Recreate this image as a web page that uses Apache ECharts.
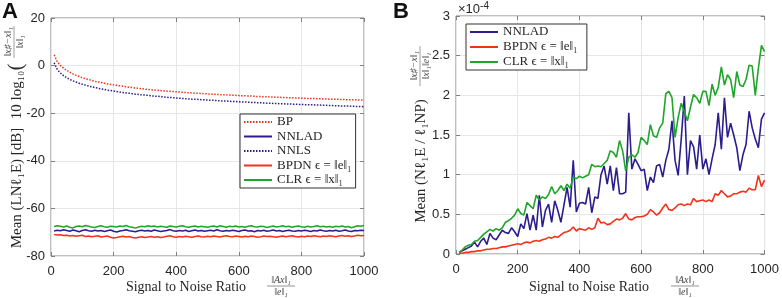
<!DOCTYPE html>
<html><head><meta charset="utf-8">
<script src="https://cdn.jsdelivr.net/npm/echarts@6/dist/echarts.min.js"></script>
<style>html,body{margin:0;padding:0;background:#fff}#c{width:782px;height:298px}</style>
</head><body><div id="c"></div>
<script>
// x values (Signal to Noise Ratio)
const snr = [10,20,30,40,50,60,70,80,90,100,110,120,130,140,150,160,170,180,190,200,
210,220,230,240,250,260,270,280,290,300,310,320,330,340,350,360,370,380,390,400,
410,420,430,440,450,460,470,480,490,500,510,520,530,540,550,560,570,580,590,600,
610,620,630,640,650,660,670,680,690,700,710,720,730,740,750,760,770,780,790,800,
810,820,830,840,850,860,870,880,890,900,910,920,930,940,950,960,970,980,990,1000];

// Panel A (dB)
const aBP = [4.5,1.6,0.1,-1.1,-2.0,-2.8,-3.5,-4.1,-4.6,-5.1,
-5.5,-5.9,-6.2,-6.6,-6.9,-7.1,-7.4,-7.7,-7.9,-8.1,
-8.3,-8.5,-8.7,-8.9,-9.1,-9.2,-9.4,-9.6,-9.7,-9.9,
-10.0,-10.1,-10.3,-10.4,-10.5,-10.6,-10.7,-10.8,-10.9,-11.0,
-11.1,-11.2,-11.3,-11.4,-11.5,-11.6,-11.6,-11.7,-11.8,-11.9,
-12.0,-12.0,-12.1,-12.2,-12.3,-12.3,-12.4,-12.5,-12.5,-12.6,
-12.7,-12.7,-12.8,-12.8,-12.9,-13.0,-13.0,-13.1,-13.1,-13.2,
-13.2,-13.3,-13.3,-13.4,-13.4,-13.5,-13.5,-13.6,-13.6,-13.7,
-13.7,-13.8,-13.8,-13.8,-13.9,-13.9,-14.0,-14.0,-14.1,-14.1,
-14.1,-14.2,-14.2,-14.3,-14.3,-14.3,-14.4,-14.4,-14.5,-14.5];
const aNNLS = [1.2,-1.6,-3.1,-4.2,-5.1,-5.8,-6.4,-6.9,-7.4,-7.8,
-8.2,-8.6,-8.9,-9.2,-9.5,-9.8,-10.0,-10.3,-10.5,-10.7,
-10.9,-11.1,-11.3,-11.5,-11.6,-11.8,-12.0,-12.1,-12.3,-12.4,
-12.5,-12.7,-12.8,-12.9,-13.0,-13.2,-13.3,-13.4,-13.5,-13.6,
-13.7,-13.8,-13.9,-14.0,-14.1,-14.1,-14.2,-14.3,-14.4,-14.5,
-14.6,-14.6,-14.7,-14.8,-14.9,-14.9,-15.0,-15.1,-15.1,-15.2,
-15.3,-15.3,-15.4,-15.5,-15.5,-15.6,-15.6,-15.7,-15.8,-15.8,
-15.9,-15.9,-16.0,-16.0,-16.1,-16.1,-16.2,-16.2,-16.3,-16.3,
-16.4,-16.4,-16.5,-16.5,-16.6,-16.6,-16.7,-16.7,-16.8,-16.8,
-16.9,-16.9,-17.0,-17.0,-17.0,-17.1,-17.1,-17.2,-17.2,-17.3];
const aNNLAD = [-69.5,-69.2,-69.4,-69.0,-69.3,-69.6,-69.1,-69.4,-69.8,-69.3,
-69.0,-69.4,-69.6,-69.2,-69.5,-69.3,-69.7,-69.4,-69.1,-69.6,
-69.9,-69.5,-69.3,-69.0,-69.4,-69.6,-69.8,-69.4,-69.2,-69.5,
-69.3,-69.6,-69.1,-69.4,-69.7,-69.5,-69.3,-68.9,-69.4,-69.6,
-69.3,-69.5,-69.2,-69.7,-69.4,-69.1,-69.5,-69.3,-69.6,-69.4,
-69.2,-69.5,-69.0,-69.4,-69.6,-69.3,-69.5,-69.2,-69.4,-69.7,
-69.3,-69.1,-69.5,-69.4,-69.8,-69.3,-69.5,-69.2,-69.6,-69.4,
-69.1,-69.5,-69.3,-69.7,-69.4,-69.2,-69.5,-69.6,-69.3,-69.5,
-69.2,-69.4,-69.7,-69.3,-69.5,-69.1,-69.4,-69.6,-69.3,-69.5,
-69.2,-69.6,-69.4,-69.1,-69.5,-69.7,-69.3,-69.4,-69.2,-69.3];
const aBPDN = [-71.0,-71.2,-71.1,-71.4,-71.3,-71.6,-71.4,-71.7,-71.5,-71.3,
-71.8,-71.6,-71.9,-71.7,-71.5,-72.0,-71.8,-71.6,-72.1,-72.4,
-72.2,-71.9,-71.7,-72.0,-71.8,-72.2,-72.4,-72.1,-71.9,-72.2,
-72.0,-71.8,-72.1,-71.9,-72.2,-72.0,-71.7,-71.5,-71.9,-72.1,
-71.8,-72.0,-71.7,-71.9,-72.1,-71.8,-71.6,-71.9,-72.0,-71.7,
-71.9,-71.6,-71.8,-72.0,-71.7,-71.5,-71.8,-71.9,-71.6,-71.8,
-72.0,-71.7,-71.9,-71.6,-71.8,-72.1,-71.9,-71.6,-71.8,-71.7,
-71.9,-72.1,-71.8,-71.6,-71.9,-71.7,-71.5,-71.8,-72.0,-71.7,
-71.9,-71.6,-71.8,-71.5,-71.7,-71.9,-71.6,-71.8,-71.5,-71.7,
-71.9,-71.6,-71.4,-71.7,-71.5,-71.8,-71.6,-71.3,-71.5,-71.4];
const aCLR = [-67.6,-67.3,-67.5,-67.8,-67.4,-67.9,-68.2,-67.6,-67.4,-67.7,
-67.2,-67.5,-67.8,-68.0,-67.6,-67.3,-67.7,-67.9,-67.5,-67.6,
-67.8,-67.4,-67.6,-67.2,-67.7,-67.9,-68.3,-67.8,-67.5,-67.7,
-67.3,-67.6,-67.4,-67.8,-67.5,-67.7,-67.9,-67.4,-67.6,-67.8,
-67.5,-67.3,-67.7,-67.9,-67.6,-67.4,-67.8,-67.5,-67.7,-67.9,
-67.6,-67.4,-67.8,-67.3,-67.6,-67.9,-67.5,-67.7,-67.4,-67.8,
-67.6,-67.9,-67.5,-67.3,-67.7,-67.8,-67.5,-67.6,-68.0,-67.7,
-67.4,-67.8,-67.6,-67.3,-67.7,-67.5,-67.9,-67.6,-67.4,-67.7,
-67.9,-67.5,-67.8,-67.6,-67.3,-67.7,-67.5,-67.8,-67.6,-67.9,
-67.5,-67.7,-67.4,-67.8,-67.6,-68.1,-67.7,-67.3,-67.5,-67.2];

// Panel B (units of 1e-4)
const bNNLAD = [0.02,0.04,0.06,0.08,0.10,0.15,0.09,0.16,0.20,0.12,
0.26,0.20,0.18,0.24,0.30,0.27,0.26,0.33,0.28,0.22,
0.38,0.32,0.51,0.30,0.49,0.30,0.74,0.34,0.55,0.63,
0.40,0.67,0.55,0.40,0.62,0.84,0.59,1.18,0.53,0.64,
0.65,0.63,0.84,0.52,0.72,0.70,1.00,1.11,0.88,1.11,
0.80,1.09,0.76,0.76,0.78,1.78,1.07,1.20,1.13,1.05,
1.07,0.80,0.97,0.90,1.11,1.13,0.97,1.18,1.32,1.68,
1.18,0.99,1.45,1.99,1.00,1.43,1.35,1.07,1.50,1.07,
1.20,1.00,1.20,1.38,1.78,1.32,1.97,1.47,1.65,1.50,
1.34,1.05,1.25,1.38,1.80,1.59,1.45,1.34,1.70,1.78];
const bBPDN = [0.01,0.01,0.02,0.02,0.03,0.03,0.04,0.04,0.05,0.06,
0.06,0.07,0.07,0.08,0.09,0.09,0.10,0.11,0.12,0.13,
0.12,0.14,0.15,0.14,0.16,0.17,0.16,0.18,0.19,0.21,
0.20,0.22,0.21,0.24,0.27,0.28,0.30,0.34,0.29,0.32,
0.31,0.30,0.33,0.31,0.33,0.45,0.39,0.40,0.37,0.38,
0.41,0.44,0.43,0.45,0.51,0.44,0.43,0.46,0.47,0.47,
0.48,0.50,0.56,0.53,0.49,0.52,0.58,0.63,0.56,0.55,
0.58,0.62,0.63,0.61,0.63,0.62,0.70,0.66,0.67,0.68,
0.66,0.68,0.66,0.76,0.74,0.80,0.76,0.72,0.73,0.76,
0.76,0.78,0.79,0.78,0.83,0.81,0.81,0.99,0.85,0.93];
const bCLR = [0.02,0.05,0.09,0.11,0.12,0.16,0.17,0.21,0.25,0.28,
0.31,0.29,0.32,0.30,0.33,0.40,0.42,0.45,0.49,0.57,
0.51,0.49,0.65,0.61,0.57,0.74,0.68,0.72,0.70,0.75,
0.85,0.76,0.80,0.86,0.80,0.88,0.83,0.97,0.95,0.98,
0.96,0.98,1.00,1.13,1.10,1.11,1.10,1.14,1.18,1.30,
1.28,1.22,1.43,1.30,1.05,1.22,1.25,1.22,1.28,1.47,
1.43,1.38,1.63,1.49,1.47,1.59,1.65,2.02,2.05,1.97,
1.47,1.72,1.90,1.80,1.68,1.85,2.01,1.97,1.90,2.05,
2.05,1.87,2.14,2.00,2.10,2.36,2.13,2.26,2.20,1.97,
2.30,2.13,2.11,2.20,2.38,2.37,2.00,2.34,2.63,2.55];

const xTicks = [0,200,400,600,800,1000];

const RED = '#f2331c', BLUE = '#2b1d8e', GREEN = '#20a52b';
const AX = '#808080', TXT = '#262626', GRIDC = '#e6e6e6';
const SANS = 'Liberation Sans, Arial, sans-serif';
const SERIF = 'Liberation Serif, DejaVu Serif, serif';

const pair = a => snr.map((x, i) => [x, a[i]]);
const fmt = v => String(v);

function xAx(gi, pos, lbl) {
  return {type:'value', gridIndex:gi, position:pos, min:xTicks[0], max:xTicks[xTicks.length-1], interval:200,
    axisLine:{show:false, onZero:false}, axisTick:{show:true, inside:true, length:4, lineStyle:{color:AX}},
    splitLine:{show:lbl, lineStyle:{color:GRIDC}},
    axisLabel:{show:lbl, color:TXT, fontFamily:SANS, fontSize:13, margin:9, formatter:fmt}};
}
function yAx(gi, pos, lbl, min, max, iv) {
  return {type:'value', gridIndex:gi, position:pos, min:min, max:max, interval:iv,
    axisLine:{show:false, onZero:false}, axisTick:{show:true, inside:true, length:4, lineStyle:{color:AX}},
    splitLine:{show:lbl, lineStyle:{color:GRIDC}},
    axisLabel:{show:lbl, color:TXT, fontFamily:SANS, fontSize:13, margin:6, formatter:fmt}};
}
function line(name, xi, yi, data, color, dotted, w) {
  return {name:name, type:'line', xAxisIndex:xi, yAxisIndex:yi, data:pair(data), showSymbol:false, symbol:'none',
    animation:false, lineStyle:{color:color, width:w, type: dotted ? [1.5,1.5] : 'solid'}, itemStyle:{color:color}};
}

const chart = echarts.init(document.getElementById('c'), null, {renderer:'canvas'});
const legTxt = {fontFamily:SERIF, fontSize:13, color:TXT, lineHeight:14};
chart.setOption({
  animation:false,
  backgroundColor:'#fff',
  grid:[
    {left:51, top:18, width:313, height:238, show:true, borderColor:AX, borderWidth:1, backgroundColor:'#fff'},
    {left:456, top:16, width:312, height:238, show:true, borderColor:AX, borderWidth:1, backgroundColor:'#fff'}
  ],
  xAxis:[xAx(0,'bottom',true), xAx(0,'top',false), xAx(1,'bottom',true), xAx(1,'top',false)],
  yAxis:[yAx(0,'left',true,-80,20,20), yAx(0,'right',false,-80,20,20),
         yAx(1,'left',true,0,3,0.5), yAx(1,'right',false,0,3,0.5)],
  legend:[
    {data:['BP','NNLAD','NNLS','BPDN ϵ = ‖e‖₁','CLR ϵ = ‖x‖₁'], orient:'vertical', left:240, top:114,
     itemWidth:28, itemHeight:10, itemGap:0.5, padding:[1,4,1,3], borderColor:'#333', borderWidth:1,
     backgroundColor:'#fff', textStyle:legTxt, selectedMode:false, itemStyle:{opacity:0}},
    {data:['NNLAD ','BPDN ϵ = ‖e‖₁ ','CLR ϵ = ‖x‖₁ '], orient:'vertical', left:466, top:24,
     itemWidth:28, itemHeight:10, itemGap:1, padding:[1,6,1,3], borderColor:'#333', borderWidth:1,
     backgroundColor:'#fff', textStyle:legTxt, selectedMode:false, itemStyle:{opacity:0}}
  ],
  series:[
    line('BP',0,0,aBP,RED,true,1.5),
    line('NNLAD',0,0,aNNLAD,BLUE,false,1.5),
    line('NNLS',0,0,aNNLS,BLUE,true,1.5),
    line('BPDN ϵ = ‖e‖₁',0,0,aBPDN,RED,false,1.5),
    line('CLR ϵ = ‖x‖₁',0,0,aCLR,GREEN,false,1.5),
    line('NNLAD ',2,2,bNNLAD,BLUE,false,1.6),
    line('BPDN ϵ = ‖e‖₁ ',2,2,bBPDN,RED,false,1.6),
    line('CLR ϵ = ‖x‖₁ ',2,2,bCLR,GREEN,false,1.6)
  ],
  graphic:[
    {type:'text', left:2, top:1, style:{text:'A', font:'bold 22px '+SANS, fill:'#111'}},
    {type:'text', left:393, top:1, style:{text:'B', font:'bold 22px '+SANS, fill:'#111'}},
    {type:'text', left:458, top:1, style:{text:'×10{s|-4}', font:'13px '+SANS, fill:TXT,
      rich:{s:{fontSize:10, verticalAlign:'top', padding:[0,0,6,0], fontFamily:SANS, fill:TXT}}}},
    // x-axis titles
    {type:'text', x:186, y:287, style:{text:'Signal to Noise Ratio', font:'14px '+SERIF, fill:TXT, align:'center', verticalAlign:'middle'}},
    {type:'group', x:281, y:286, children:[
      {type:'text', x:0, y:-6, style:{text:'‖Ax‖₁', font:'italic 10px '+SERIF, fill:'#444', align:'center', verticalAlign:'middle'}},
      {type:'line', shape:{x1:-14, y1:0, x2:14, y2:0}, style:{stroke:'#666', lineWidth:0.7}},
      {type:'text', x:0, y:6, style:{text:'‖e‖₁', font:'italic 10px '+SERIF, fill:'#444', align:'center', verticalAlign:'middle'}}
    ]},
    {type:'text', x:589, y:287, style:{text:'Signal to Noise Ratio', font:'14px '+SERIF, fill:TXT, align:'center', verticalAlign:'middle'}},
    {type:'group', x:685, y:286, children:[
      {type:'text', x:0, y:-6, style:{text:'‖Ax‖₁', font:'italic 10px '+SERIF, fill:'#444', align:'center', verticalAlign:'middle'}},
      {type:'line', shape:{x1:-14, y1:0, x2:14, y2:0}, style:{stroke:'#666', lineWidth:0.7}},
      {type:'text', x:0, y:6, style:{text:'‖e‖₁', font:'italic 10px '+SERIF, fill:'#444', align:'center', verticalAlign:'middle'}}
    ]},
    // y-axis title A
    {type:'text', x:17, y:188, rotation:Math.PI/2, style:{text:'Mean (LNℓ₁E) [dB]', font:'15px '+SERIF, fill:TXT, align:'center', verticalAlign:'middle'}},
    {type:'text', x:17, y:95, rotation:Math.PI/2, style:{text:'10 log₁₀', font:'15px '+SERIF, fill:TXT, align:'center', verticalAlign:'middle'}},
    {type:'text', x:17, y:67, rotation:Math.PI/2, style:{text:'(', font:'20px '+SERIF, fill:TXT, align:'center', verticalAlign:'middle'}},
    {type:'group', x:14, y:42, rotation:Math.PI/2, children:[
      {type:'text', x:0, y:-6, style:{text:'‖x♯−x‖₁', font:'italic 10px '+SERIF, fill:'#555', align:'center', verticalAlign:'middle'}},
      {type:'line', shape:{x1:-16, y1:0, x2:16, y2:0}, style:{stroke:'#777', lineWidth:0.7}},
      {type:'text', x:0, y:6, style:{text:'‖x‖₁', font:'italic 10px '+SERIF, fill:'#555', align:'center', verticalAlign:'middle'}}
    ]},
    // y-axis title B
    {type:'text', x:421, y:161, rotation:Math.PI/2, style:{text:'Mean (Nℓ₁E / ℓ₁NP)', font:'15px '+SERIF, fill:TXT, align:'center', verticalAlign:'middle'}},
    {type:'group', x:420, y:66, rotation:Math.PI/2, children:[
      {type:'text', x:0, y:-6, style:{text:'‖x♯−x‖₁', font:'italic 10px '+SERIF, fill:'#555', align:'center', verticalAlign:'middle'}},
      {type:'line', shape:{x1:-20, y1:0, x2:20, y2:0}, style:{stroke:'#777', lineWidth:0.7}},
      {type:'text', x:0, y:6, style:{text:'‖x‖₁‖e‖₁', font:'italic 10px '+SERIF, fill:'#555', align:'center', verticalAlign:'middle'}}
    ]}
  ]
});
</script></body></html>
